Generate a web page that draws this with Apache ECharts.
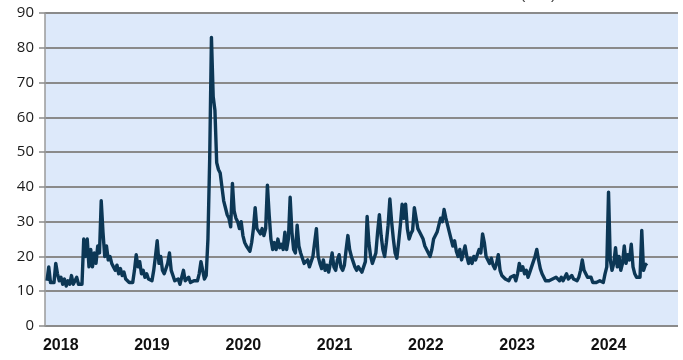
<!DOCTYPE html>
<html>
<head>
<meta charset="utf-8">
<script src="https://cdn.jsdelivr.net/npm/echarts@6/dist/echarts.min.js"></script>
<style>
  html, body { margin: 0; padding: 0; background: #ffffff; }
  #chart { width: 683px; height: 360px; }
</style>
</head>
<body>
<div id="chart"></div>
<script>
// Weekly volatility index closes, first week starting 2018-05-07
const seriesStart = '2018-05-07';
const vix2018 = [13, 17, 12.5, 13, 12.5, 18, 15, 13, 14, 12, 13.5, 11.5, 13, 12, 14.5, 12, 13, 14, 12, 12.5, 12,
  25, 20, 25, 17, 22, 17, 21, 18, 23, 21, 36, 27, 20];
const vix2019 = [23, 19, 20, 18, 17, 16, 17.5, 15, 16.5, 14.5, 15.5, 13.5, 14, 12.5, 13, 12.5, 16,
  20.5, 17, 18.5, 15, 16, 14, 15, 13.5, 14, 13, 16, 20, 24.5, 18, 20, 16, 15, 14.5, 18, 21,
  16, 14.5, 13, 12.5, 13.5, 12, 12.5, 16, 13, 12.5, 14, 12.5, 12, 13, 12.5, 13, 15, 18.5];
const vix2020 = [16, 13.5, 14.5, 25, 48, 83, 66, 62, 47, 45, 44, 40,
  36, 34, 32, 31, 28.5, 41, 33, 31, 30, 28, 30, 26, 24, 23, 22.5, 21.5, 24, 28, 34, 28,
  27.5, 26.5, 28, 26, 28, 40.5, 32, 25, 22, 24];
const vix2021 = [22, 25, 22.5, 23.5, 22, 27, 22, 25, 37, 27, 22, 21, 29, 23, 21, 19.5, 18, 17.5, 19, 17,
  18.5, 20, 24, 28, 20, 18, 16.5, 19, 16, 17.5, 15.5, 18, 21, 17, 16, 19, 20.5, 17, 16, 17.5,
  22, 26, 22, 20, 18.5, 17, 16, 17, 16.5, 15.5, 17, 18.5];
const vix2022 = [31.5, 24, 20, 18, 17.5, 21, 27, 32, 26, 22, 20, 24, 29, 36.5, 30, 25, 21, 19.5,
  24, 29, 35, 31, 35, 28, 25, 26.5, 27.5, 34, 31, 28, 27, 26, 25, 23, 22, 21, 20, 22,
  25, 26, 27, 29, 31, 30, 33.5, 31, 29, 27, 25, 23, 24.5, 21.5];
const vix2023 = [20, 22, 19, 21, 23, 20, 18, 19.5, 18, 20, 19, 20.5, 22, 21, 26.5, 24,
  20, 19, 18, 19.5, 17.5, 16.5, 18, 20.5, 16, 14.5, 15, 13.5, 14, 13, 14, 13.5, 14.5, 13, 15, 18,
  16, 17, 15, 16, 14, 15.5, 17, 18.5, 20, 22, 19, 16.5, 15, 14, 13, 12.5];
const vix2024 = [13, 12.5, 13.5, 13, 14, 13.5, 13, 14, 13, 13.5, 15, 13.5, 14, 14.5,
  13.5, 14, 13, 14, 16, 19, 16, 15, 14, 13.5, 14, 12.5, 13, 12.5, 12, 13, 12.5, 12.5, 15, 17,
  38.5, 19, 16, 18, 22.5, 17, 20, 16, 18, 23, 18, 20.5, 19, 23.5, 17, 15, 14, 13.5, 14, 27.5, 16, 17.5, 18];

const yearLabels = ['2018', '2019', '2020', '2021', '2022', '2023', '2024'];
const yTicks = [0, 10, 20, 30, 40, 50, 60, 70, 80, 90];

const DAY = 86400000;
const values = [].concat(vix2018, vix2019, vix2020, vix2021, vix2022, vix2023, vix2024);
const t0 = Date.parse(seriesStart + 'T00:00:00Z');
const points = values.map((v, i) => [t0 + i * 7 * DAY, v]);

// year labels sit in the middle of each calendar year
const labelDates = yearLabels.map(y => Date.parse(y + '-07-01T00:00:00Z'));

const chart = echarts.init(document.getElementById('chart'), null, { renderer: 'canvas' });
chart.setOption({
  animation: false,
  backgroundColor: '#ffffff',
  grid: {
    left: 45, right: 5, top: 13, bottom: 34,
    show: true, backgroundColor: '#dde9fa', borderWidth: 0
  },
  graphic: [{
    type: 'text', left: 520, top: -13,
    style: { text: '(VIX)', font: '16px "Liberation Sans"', fill: '#444' }
  }],
  xAxis: {
    type: 'value',
    min: Date.parse('2018-04-29T00:00:00Z'),
    max: Date.parse('2025-04-05T00:00:00Z'),
    axisLine: { show: false },
    axisTick: { show: false },
    splitLine: { show: false },
    axisLabel: {
      customValues: labelDates,
      formatter: v => String(new Date(v).getUTCFullYear()),
      color: '#111',
      fontFamily: 'Liberation Sans',
      fontWeight: 'bold',
      fontSize: 16,
      margin: 12
    }
  },
  yAxis: {
    type: 'value',
    min: 0, max: 90, interval: 10,
    axisLine: { show: true, lineStyle: { color: '#9a9a9a', width: 1.5 } },
    axisTick: { show: true, length: 6, lineStyle: { color: '#8a8a8a', width: 1.5 } },
    splitLine: { show: true, lineStyle: { color: '#8a8a8a', width: 2 } },
    axisLabel: {
      color: '#1a1a1a',
      fontFamily: 'Open Sans',
      fontSize: 15,
      margin: 11,
      formatter: v => yTicks.includes(v) ? String(v) : ''
    }
  },
  series: [{
    type: 'line',
    data: points,
    showSymbol: false,
    symbol: 'none',
    lineStyle: { color: '#0c3755', width: 3.4, join: 'round' },
    z: 5
  }]
});
</script>
</body>
</html>
